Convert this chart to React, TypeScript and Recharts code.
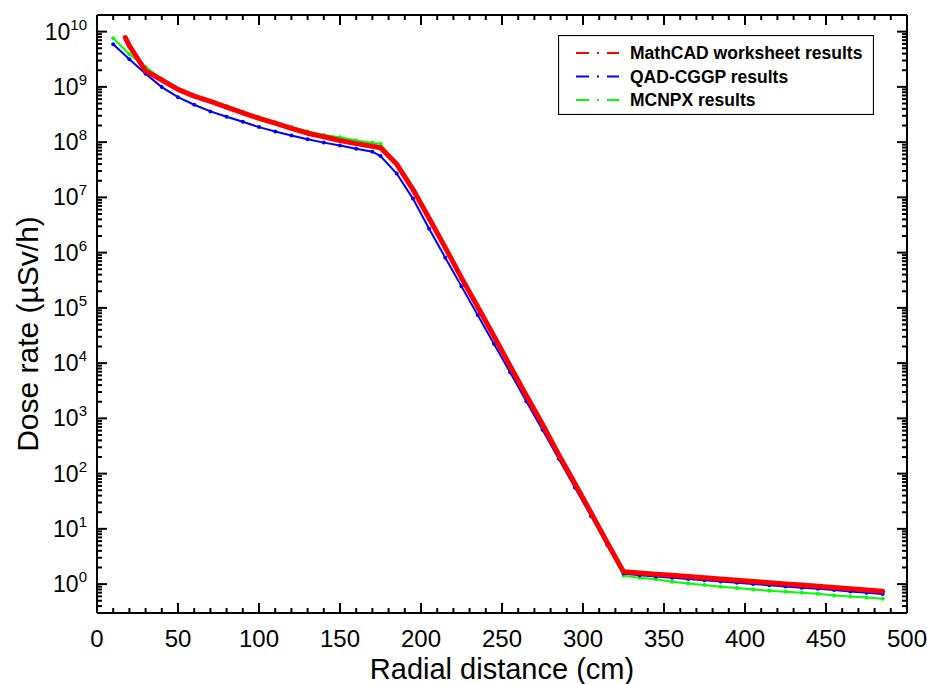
import { LineChart, Line, XAxis, YAxis, Legend } from 'recharts';

// radial distance (cm) shared by all three result sets
const radiusCm = [
  10, 17.5, 20, 30, 40, 50, 60, 70, 80, 90, 100, 110, 120, 130, 140, 150, 160, 170,
  175, 185, 195, 205, 215, 225, 235, 245, 255, 265, 275, 285, 295, 305, 315, 325,
  335, 345, 355, 365, 375, 385, 395, 405, 415, 425, 435, 445, 455, 465, 475, 485,
];

// dose rate (µSv/h)
const mathcadDose = [
  null, 7.8e9, 5.5e9, 1.95e9, 1.33e9, 9.0e8, 6.8e8, 5.45e8, 4.3e8, 3.4e8, 2.7e8, 2.2e8, 1.77e8, 1.45e8, 1.25e8, 1.07e8, 9.4e7, 8.4e7,
  7.9e7, 4.0e7, 1.4e7, 4.2e6, 1.23e6, 3.5e5, 1.05e5, 3.1e4, 8.9e3, 2.6e3, 780, 220, 66, 19.5, 5.6, 1.67,
  1.59, 1.51, 1.44, 1.37, 1.3, 1.24, 1.175, 1.12, 1.06, 1.01, 0.96, 0.914, 0.869, 0.826, 0.785, 0.746,
];
const qadDose = [
  5.9e9, null, 3.15e9, 1.73e9, 9.9e8, 6.5e8, 4.75e8, 3.6e8, 2.88e8, 2.34e8, 1.87e8, 1.56e8, 1.32e8, 1.13e8, 9.8e7, 8.7e7, 7.6e7, 6.7e7,
  5.6e7, 2.7e7, 9.5e6, 2.7e6, 8.1e5, 2.45e5, 7.4e4, 2.25e4, 6.8e3, 2.05e3, 620, 185, 56, 17, 5.1, 1.56,
  1.45, 1.37, 1.3, 1.24, 1.18, 1.115, 1.06, 1.0, 0.955, 0.905, 0.86, 0.82, 0.78, 0.738, 0.7, 0.665,
];
const mcnpxDose = [
  7.6e9, null, 3.9e9, 2.3e9, 1.39e9, 9.1e8, 6.9e8, 5.6e8, 4.45e8, 3.55e8, 2.85e8, 2.3e8, 1.88e8, 1.57e8, 1.34e8, 1.23e8, 1.07e8, 9.7e7,
  9.3e7, 3.9e7, 1.3e7, 3.9e6, 1.15e6, 3.3e5, 9.8e4, 2.9e4, 8.3e3, 2.45e3, 730, 205, 62, 18.3, 5.3, 1.42,
  1.3, 1.22, 1.1, 1.03, 0.96, 0.895, 0.847, 0.8, 0.757, 0.726, 0.697, 0.668, 0.623, 0.598, 0.574, 0.542,
];

const seriesNames = ['MathCAD worksheet results', 'QAD-CGGP results', 'MCNPX results'];
const seriesColors = ['#ff0000', '#0000ff', '#00ff00'];

const xLabelTicks = [0, 50, 100, 150, 200, 250, 300, 350, 400, 450, 500];
const yLabelExponents = [0, 1, 2, 3, 4, 5, 6, 7, 8, 9, 10];
const yDomain = [0.3, 2e10];

const chartData = radiusCm.map((r, i) => ({
  r,
  mathcad: mathcadDose[i],
  qad: qadDose[i],
  mcnpx: mcnpxDose[i],
}));

// every 10 cm gets a tick mark, labels only on the 50s
const xAllTicks = Array.from({ length: 51 }, (_, i) => i * 10);
const yAllTicks: number[] = [];
for (let k = -1; k <= 10; k++) {
  for (let m = 1; m <= 9; m++) {
    const v = m * Math.pow(10, k);
    if (v >= yDomain[0] * 0.999 && v <= yDomain[1] * 1.001) yAllTicks.push(v);
  }
}

const FONT = '"Liberation Sans", Arial, sans-serif';

const isDecade = (v: number) => Math.abs(Math.log10(v) - Math.round(Math.log10(v))) < 1e-6;

const XTick = ({ x, y, payload, side }: any) => {
  const major = xLabelTicks.includes(payload.value);
  const len = major ? 10 : 5;
  const dir = side === 'top' ? 1 : -1;
  return (
    <g>
      <line x1={x} y1={y} x2={x} y2={y + dir * len} stroke="#000" strokeWidth={2} />
      {side !== 'top' && major && (
        <text x={x} y={y + 34} textAnchor="middle" fontSize={24} fontFamily={FONT} fill="#000">
          {payload.value}
        </text>
      )}
    </g>
  );
};

const YTick = ({ x, y, payload, side }: any) => {
  const major = isDecade(payload.value);
  const len = major ? 10 : 5;
  const dir = side === 'right' ? -1 : 1;
  const exp = Math.round(Math.log10(payload.value));
  return (
    <g>
      <line x1={x} y1={y} x2={x + dir * len} y2={y} stroke="#000" strokeWidth={2} />
      {side !== 'right' && major && yLabelExponents.includes(exp) && (
        <text x={87} y={y + 8} textAnchor="end" fontSize={23} fontFamily={FONT} fill="#000">
          <tspan>10</tspan>
          <tspan dy={-10} fontSize={15}>{exp}</tspan>
        </text>
      )}
    </g>
  );
};

const XTitle = () => (
  <text x={502} y={679} textAnchor="middle" fontSize={29} fontFamily={FONT} fill="#000">
    Radial distance (cm)
  </text>
);

const YTitle = () => (
  <text
    x={38}
    y={334}
    transform="rotate(-90, 38, 334)"
    textAnchor="middle"
    fontSize={30}
    fontFamily={FONT}
    fill="#000"
  >
    Dose rate (µSv/h)
  </text>
);

const LegendBox = () => (
  <svg width={316} height={80}>
    <rect x={0.5} y={0.5} width={315} height={79} fill="#fff" stroke="#000" strokeWidth={1.2} />
    {seriesNames.map((name, i) => (
      <g key={name}>
        <line
          x1={18}
          x2={61}
          y1={18 + i * 23.5}
          y2={18 + i * 23.5}
          stroke={seriesColors[i]}
          strokeWidth={2}
          strokeDasharray="13 8 2 8 13"
        />
        <text x={72} y={24 + i * 23.5} fontSize={17.5} fontWeight="bold" fontFamily={FONT} fill="#000">
          {name}
        </text>
      </g>
    ))}
  </svg>
);

export default function App() {
  return (
    <div style={{ position: 'absolute', left: 0, top: 0, width: 927, height: 684, background: '#fff' }}>
      <LineChart
        width={927}
        height={684}
        data={chartData}
        margin={{ top: 14, right: 19, bottom: 70, left: 96 }}
      >
        <XAxis
          dataKey="r"
          type="number"
          domain={[0, 500]}
          ticks={xAllTicks}
          interval={0}
          height={1}
          tickSize={0}
          tickMargin={0}
          axisLine={{ stroke: '#000', strokeWidth: 2 }}
          tick={<XTick side="bottom" />}
          label={() => <XTitle />}
        />
        <XAxis
          xAxisId="top"
          orientation="top"
          dataKey="r"
          type="number"
          domain={[0, 500]}
          ticks={xAllTicks}
          interval={0}
          height={1}
          tickSize={0}
          tickMargin={0}
          axisLine={{ stroke: '#000', strokeWidth: 2 }}
          tick={<XTick side="top" />}
        />
        <YAxis
          type="number"
          scale="log"
          domain={yDomain}
          allowDataOverflow
          ticks={yAllTicks}
          interval={0}
          width={1}
          tickSize={0}
          tickMargin={0}
          axisLine={{ stroke: '#000', strokeWidth: 2 }}
          tick={<YTick side="left" />}
          label={() => <YTitle />}
        />
        <YAxis
          yAxisId="right"
          orientation="right"
          type="number"
          scale="log"
          domain={yDomain}
          allowDataOverflow
          ticks={yAllTicks}
          interval={0}
          width={1}
          tickSize={0}
          tickMargin={0}
          axisLine={{ stroke: '#000', strokeWidth: 2 }}
          tick={<YTick side="right" />}
        />
        <Legend
          layout="horizontal"
          align="center"
          verticalAlign="middle"
          wrapperStyle={{ position: 'absolute', left: 558, top: 35, width: 316, height: 80 }}
          content={() => <LegendBox />}
        />
        <Line
          dataKey="mcnpx"
          stroke={seriesColors[2]}
          strokeWidth={2}
          dot={{ r: 2, fill: seriesColors[2], stroke: 'none' }}
          connectNulls
          isAnimationActive={false}
        />
        <Line
          dataKey="qad"
          stroke={seriesColors[1]}
          strokeWidth={2}
          dot={{ r: 2, fill: seriesColors[1], stroke: 'none' }}
          connectNulls
          isAnimationActive={false}
        />
        <Line
          dataKey="mathcad"
          stroke={seriesColors[0]}
          strokeWidth={5}
          strokeLinejoin="round"
          strokeLinecap="round"
          dot={false}
          connectNulls
          isAnimationActive={false}
          {...({ zIndex: 700 } as any)}
        />
      </LineChart>
    </div>
  );
}
